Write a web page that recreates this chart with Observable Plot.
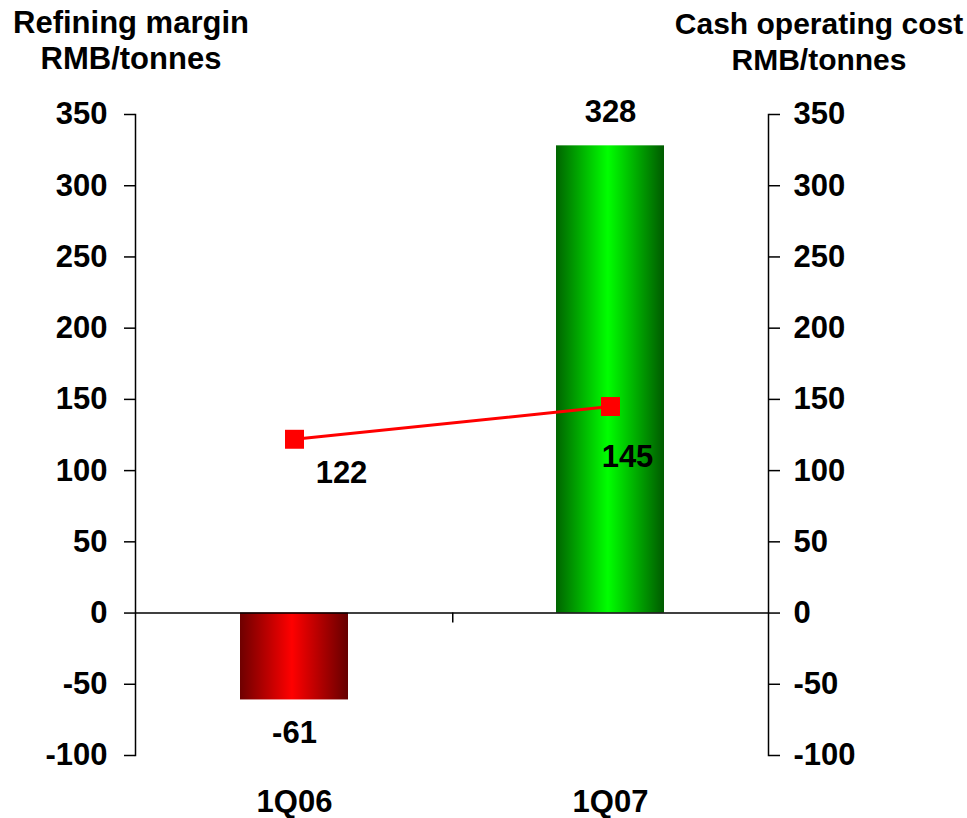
<!DOCTYPE html>
<html>
<head>
<meta charset="utf-8">
<script src="https://cdn.jsdelivr.net/npm/d3@7"></script>
<script src="https://cdn.jsdelivr.net/npm/@observablehq/plot@0.6"></script>
<style>
  html, body { margin: 0; padding: 0; background: #fff; overflow: hidden; }
  #wrap { width: 967px; }
  #header { position: relative; height: 90px; font-family: "Liberation Sans", Arial, sans-serif; font-weight: bold; font-size: 31px; line-height: 36px; color: #000; }
  .ttl { position: absolute; top: 5px; text-align: center; white-space: nowrap; }
  #chart svg { display: block; }
</style>
</head>
<body>
<div id="wrap">
  <div id="header">
    <div class="ttl" style="left:0px;width:262px;">Refining margin<br>RMB/tonnes</div>
    <div class="ttl" style="left:673px;width:292px;font-size:30px;top:6px;">Cash operating cost<br>RMB/tonnes</div>
  </div>
  <div id="chart"></div>
</div>
<script>
const categories = ["1Q06", "1Q07"];
const refiningMargin = [-61, 328];
const cashOperatingCost = [122, 145];
const yTicks = [-100, -50, 0, 50, 100, 150, 200, 250, 300, 350];

const rows = categories.map((c, i) => ({cat: c, margin: refiningMargin[i], cost: cashOperatingCost[i]}));

const W = 967, H = 728, ML = 135, MR = 199, MT = 24, MB = 63;
const halfBand = (W - ML - MR) / categories.length / 2;
const font = {fontSize: 31, fontWeight: "bold", fontFamily: "Liberation Sans, Arial, sans-serif"};

const plot = Plot.plot({
  width: W, height: H,
  marginLeft: ML, marginRight: MR, marginTop: MT, marginBottom: MB,
  style: {fontFamily: "Liberation Sans, Arial, sans-serif", background: "#fff", color: "#000"},
  x: {type: "band", domain: categories, padding: 0, label: null},
  y: {domain: [-100, 350], label: null},
  marks: [
    Plot.barY(rows, {x: "cat", y: "margin", fill: d => d.margin < 0 ? "url(#gradNeg)" : "url(#gradPos)", insetLeft: 104, insetRight: 104}),
    Plot.ruleY([0], {stroke: "#000", strokeWidth: 1.5}),
    Plot.frame({anchor: "left", stroke: "#000", strokeWidth: 1.5}),
    Plot.frame({anchor: "right", stroke: "#000", strokeWidth: 1.5}),
    Plot.ruleX([categories[0]], {y1: 0, y2: 0, insetBottom: -10, dx: halfBand, stroke: "#000", strokeWidth: 1.5}),
    Plot.axisY({anchor: "left", ticks: yTicks, tickSize: 11, tickPadding: 17, tickFormat: d => String(d), strokeWidth: 1.5, label: null, ...font}),
    Plot.axisY({anchor: "right", ticks: yTicks, tickSize: 11, tickPadding: 14, tickFormat: d => String(d), strokeWidth: 1.5, label: null, ...font}),
    Plot.axisX({anchor: "bottom", tickSize: 0, tickPadding: 34, label: null, ...font}),
    Plot.line(rows, {x: "cat", y: "cost", stroke: "#ff0000", strokeWidth: 3}),
    Plot.dot(rows, {x: "cat", y: "cost", symbol: "square", r: 10.7, fill: "#ff0000", stroke: "none"}),
    Plot.text(rows.filter(d => d.margin >= 0), {x: "cat", y: "margin", text: d => String(d.margin), dy: -34, ...font}),
    Plot.text(rows.filter(d => d.margin < 0), {x: "cat", y: "margin", text: d => String(d.margin), dy: 33, ...font}),
    Plot.text(rows.slice(0, 1), {x: "cat", y: "cost", text: d => String(d.cost), dx: 47, dy: 34, ...font}),
    Plot.text(rows.slice(1, 2), {x: "cat", y: "cost", text: d => String(d.cost), dx: 17, dy: 51, ...font})
  ]
});

const svg = d3.select(plot.tagName.toLowerCase() === "svg" ? plot : plot.querySelector("svg"));
const defs = svg.insert("defs", ":first-child");
function grad(id, edgeL, mid, edgeR) {
  const g = defs.append("linearGradient").attr("id", id).attr("x1", "0%").attr("x2", "100%").attr("y1", "0%").attr("y2", "0%");
  g.append("stop").attr("offset", "0%").attr("stop-color", edgeL);
  g.append("stop").attr("offset", "48%").attr("stop-color", mid);
  g.append("stop").attr("offset", "100%").attr("stop-color", edgeR);
}
grad("gradNeg", "#6e0000", "#ff0000", "#650000");
grad("gradPos", "#006400", "#00ff00", "#005a00");

document.getElementById("chart").appendChild(plot);
</script>
</body>
</html>
